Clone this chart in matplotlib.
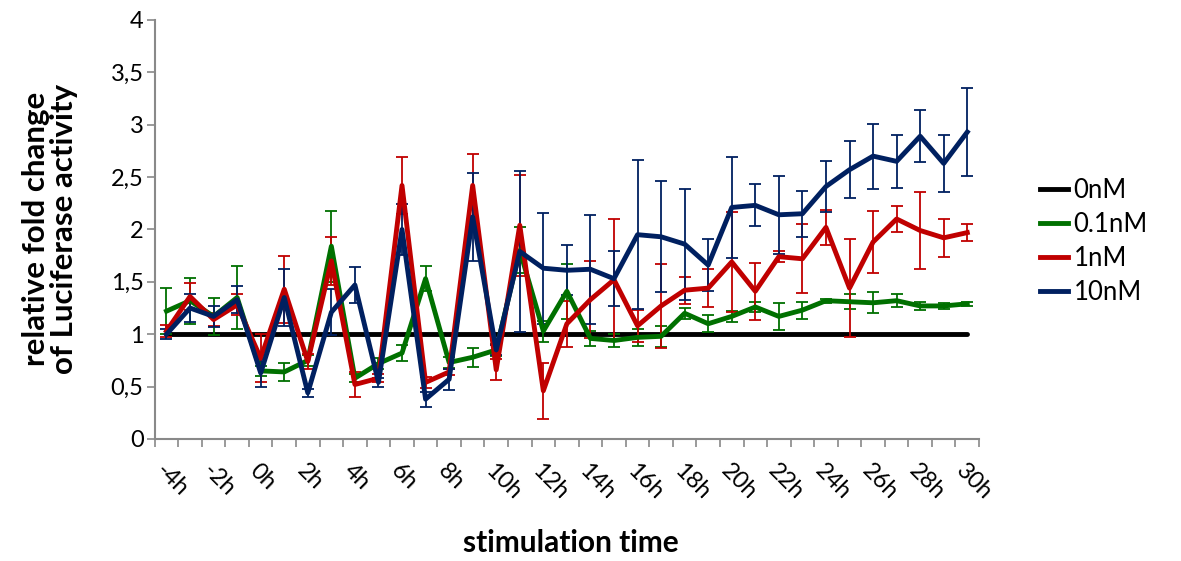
import numpy as np
import matplotlib.pyplot as plt
from matplotlib.lines import Line2D

plt.rcParams['font.family'] = ['Lato', 'DejaVu Sans']

# stimulation time points (hours)
hours = list(range(-4, 31))
time_labels = [f'{h}h' for h in hours]

ctrl_0nM = [1.0] * len(hours)

mean_01nM = [1.22, 1.32, 1.17, 1.35, 0.65, 0.64, 0.75, 1.84, 0.58, 0.72,
             0.82, 1.53, 0.73, 0.78, 0.85, 1.80, 1.03, 1.41, 0.96, 0.94,
             0.97, 0.98, 1.20, 1.10, 1.17, 1.26, 1.17, 1.23, 1.32, 1.31,
             1.30, 1.32, 1.27, 1.27, 1.29]
err_01nM = [0.22, 0.22, 0.18, 0.30, 0.05, 0.09, 0.05, 0.34, 0.04, 0.05,
            0.08, 0.12, 0.05, 0.09, 0.06, 0.22, 0.10, 0.26, 0.07, 0.06,
            0.08, 0.10, 0.05, 0.08, 0.05, 0.05, 0.13, 0.08, 0.02, 0.07,
            0.10, 0.06, 0.04, 0.03, 0.02]

mean_1nM = [1.03, 1.36, 1.14, 1.28, 0.77, 1.43, 0.74, 1.70, 0.52, 0.58,
            2.42, 0.54, 0.64, 2.42, 0.66, 2.04, 0.46, 1.10, 1.33, 1.52,
            1.08, 1.27, 1.42, 1.44, 1.69, 1.41, 1.74, 1.72, 2.02, 1.44,
            1.88, 2.10, 1.99, 1.92, 1.97]
err_1nM = [0.06, 0.13, 0.06, 0.10, 0.23, 0.32, 0.07, 0.23, 0.12, 0.04,
           0.27, 0.05, 0.03, 0.30, 0.10, 0.48, 0.27, 0.22, 0.37, 0.58,
           0.15, 0.40, 0.13, 0.18, 0.48, 0.27, 0.05, 0.33, 0.17, 0.47,
           0.30, 0.12, 0.37, 0.18, 0.08]

mean_10nM = [1.00, 1.25, 1.17, 1.33, 0.63, 1.35, 0.44, 1.21, 1.47, 0.54,
             2.00, 0.38, 0.57, 2.12, 0.85, 1.79, 1.63, 1.61, 1.62, 1.53,
             1.95, 1.93, 1.86, 1.66, 2.21, 2.23, 2.14, 2.15, 2.41, 2.57,
             2.70, 2.65, 2.89, 2.63, 2.93]
err_10nM = [0.05, 0.13, 0.10, 0.13, 0.13, 0.27, 0.04, 0.22, 0.17, 0.04,
            0.24, 0.07, 0.10, 0.42, 0.05, 0.77, 0.53, 0.24, 0.52, 0.26,
            0.71, 0.53, 0.53, 0.25, 0.48, 0.20, 0.37, 0.22, 0.24, 0.27,
            0.31, 0.25, 0.25, 0.27, 0.42]

series = [
    ('0.1nM', mean_01nM, err_01nM, '#007000'),
    ('1nM', mean_1nM, err_1nM, '#c00000'),
    ('10nM', mean_10nM, err_10nM, '#002060'),
]

fig = plt.figure(figsize=(11.81, 5.61), dpi=100)
ax = fig.add_axes([0.131, 0.2175, 0.698, 0.747])

x = np.arange(len(hours))
ax.plot(x, ctrl_0nM, color='black', lw=3.5, solid_capstyle='round', zorder=2)
for name, vals, errs, color in series:
    ax.errorbar(x, vals, yerr=errs, color=color, lw=3.5, elinewidth=1.3,
                capsize=4.5, capthick=1.3, zorder=3)

ax.set_xlim(-0.5, len(hours) - 0.5)
ax.set_ylim(0, 4)

grey = '#898989'
for side in ('top', 'right'):
    ax.spines[side].set_visible(False)
for side in ('left', 'bottom'):
    ax.spines[side].set_color(grey)
    ax.spines[side].set_linewidth(1.5)

yt = np.arange(0, 4.01, 0.5)
ax.set_yticks(yt)
ax.set_yticklabels([f'{v:g}'.replace('.', ',') for v in yt], fontsize=17)
ax.tick_params(axis='y', length=6, width=1.2, color=grey, pad=2)

# labels every 2 h, tick marks between every hourly category
ax.set_xticks(x[::2])
ax.set_xticklabels(time_labels[::2], fontsize=17, rotation=-45,
                   ha='left', va='top', rotation_mode='anchor')
ax.set_xticks(np.arange(-0.5, len(hours)), minor=True)
ax.tick_params(axis='x', which='major', length=0, pad=15)
ax.tick_params(axis='x', which='minor', length=6, width=1.2, color=grey)

fig.text(571 / 1181, 1 - 543 / 561, 'stimulation time', fontsize=21.5,
         fontweight='bold', ha='center', va='center')
fig.text(50 / 1181, 1 - 229 / 561, 'relative fold change\nof Luciferase activity',
         fontsize=22.5, fontweight='bold', rotation=90, ha='center',
         va='center', multialignment='center', linespacing=1.0)

handles = [Line2D([], [], color='black', lw=3.5)]
handles += [Line2D([], [], color=c, lw=3.5) for _, _, _, c in series]
names = ['0nM'] + [s[0] for s in series]
fig.legend(handles, names, loc='upper left',
           bbox_to_anchor=(1017 / 1181, 1 - 155 / 561), frameon=False,
           fontsize=18.5, handlelength=1.1, handletextpad=0.2,
           labelspacing=0.35)

fig.savefig('out.png', dpi=100)
